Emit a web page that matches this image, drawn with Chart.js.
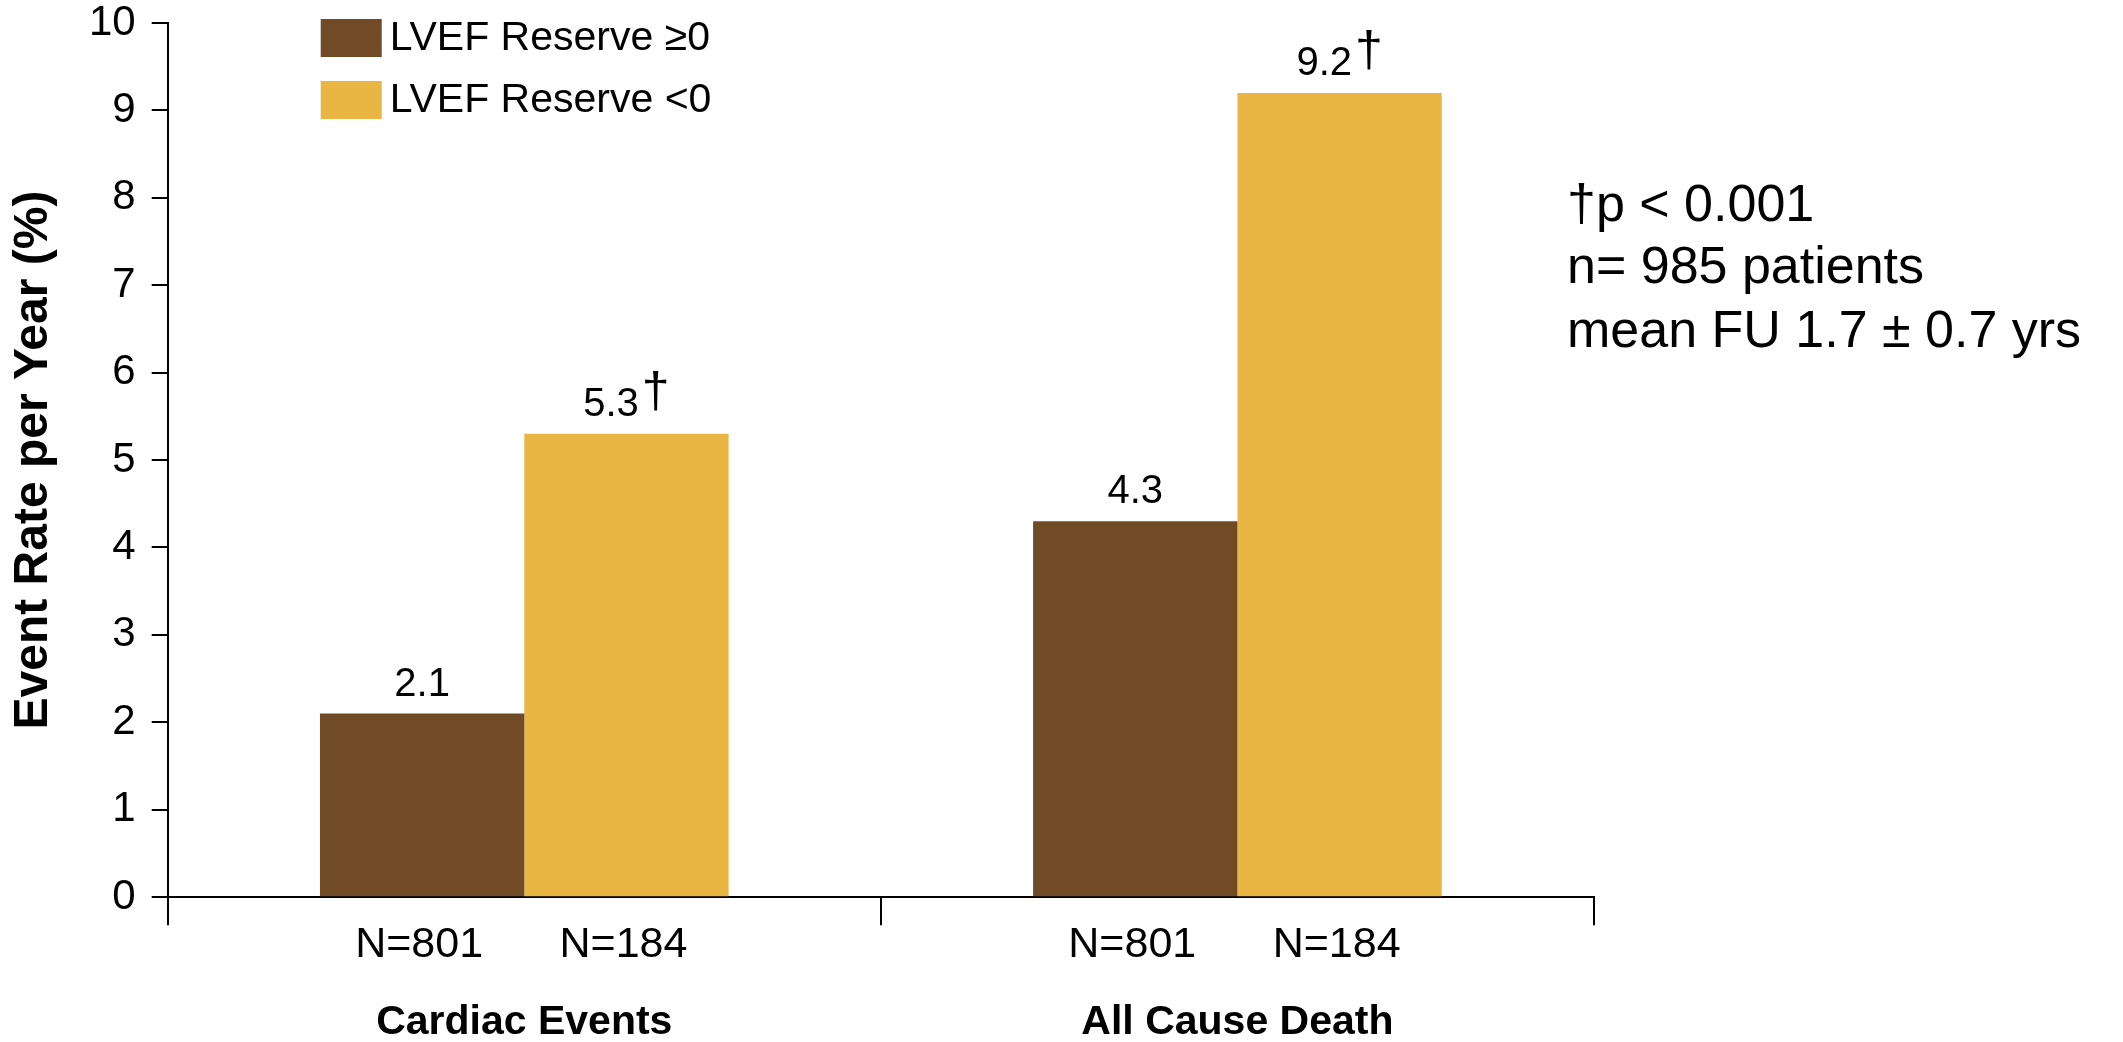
<!DOCTYPE html>
<html>
<head>
<meta charset="utf-8">
<script src="https://cdn.jsdelivr.net/npm/chart.js@4/dist/chart.umd.min.js"></script>
<style>
  html, body { margin: 0; padding: 0; background: #ffffff; }
  canvas { display: block; }
</style>
</head>
<body>
<canvas id="chart" width="2123" height="1042"></canvas>
<script>
// Event rate per year by LVEF reserve group
const categories = ['Cardiac Events', 'All Cause Death'];
const seriesLabels = ['LVEF Reserve \u22650', 'LVEF Reserve <0'];
const reserveNonNegative = [2.1, 4.3];
const reserveNegative = [5.3, 9.2];
const groupSizesNonNegative = ['N=801', 'N=801'];
const groupSizesNegative = ['N=184', 'N=184'];
const significantNonNegative = [false, false];
const significantNegative = [true, true];
const notes = ['\u2020p < 0.001', 'n= 985 patients', 'mean FU 1.7 \u00b1 0.7 yrs'];
const yMin = 0, yMax = 10, yStep = 1;

const BROWN = '#714a26';
const GOLD = '#e9b543';
const FONT = "'Liberation Sans', Arial, Helvetica, sans-serif";

const groupSizes = [groupSizesNonNegative, groupSizesNegative];
const significance = [significantNonNegative, significantNegative];

const annotationPlugin = {
  id: 'annotations',
  afterDatasetsDraw(chart) {
    const ctx = chart.ctx;
    const area = chart.chartArea;
    ctx.save();
    ctx.fillStyle = '#000';
    chart.data.datasets.forEach((ds, di) => {
      const meta = chart.getDatasetMeta(di);
      meta.data.forEach((bar, i) => {
        // value label above the bar, with a raised dagger when significant
        const valueText = ds.data[i].toFixed(1);
        ctx.font = '40px ' + FONT;
        const w = ctx.measureText(valueText).width;
        const hasDagger = significance[di][i];
        let dw = 0;
        if (hasDagger) {
          ctx.font = '50px ' + FONT;
          dw = ctx.measureText('\u2020').width + 3;
        }
        const startX = bar.x - (w + dw) / 2;
        const baseY = bar.y - 18;
        ctx.textAlign = 'left';
        ctx.textBaseline = 'alphabetic';
        ctx.font = '40px ' + FONT;
        ctx.fillText(valueText, startX, baseY);
        if (hasDagger) {
          ctx.font = '50px ' + FONT;
          ctx.fillText('\u2020', startX + w + 3, baseY - 9);
        }
        // group size under the bar
        ctx.font = '43px ' + FONT;
        ctx.textAlign = 'center';
        ctx.textBaseline = 'middle';
        ctx.fillText(groupSizes[di][i], bar.x - 3, area.bottom + 48);
      });
    });

    // legend
    const lx = area.left + 153;
    const rows = [19, 81];
    chart.data.datasets.forEach((ds, di) => {
      ctx.fillStyle = ds.backgroundColor;
      ctx.fillRect(lx, rows[di], 61, 38);
      ctx.fillStyle = '#000';
      ctx.font = '41px ' + FONT;
      ctx.textAlign = 'left';
      ctx.textBaseline = 'middle';
      ctx.fillText(ds.label, lx + 69, rows[di] + 20);
    });

    // study notes on the right
    ctx.font = '52px ' + FONT;
    ctx.textAlign = 'left';
    ctx.textBaseline = 'alphabetic';
    const nx = area.right - 27;
    const baselines = [221, 283, 347];
    notes.forEach((t, k) => ctx.fillText(t, nx, baselines[k]));
    ctx.restore();
  }
};

new Chart(document.getElementById('chart'), {
  type: 'bar',
  data: {
    labels: categories,
    datasets: [
      { label: seriesLabels[0], data: reserveNonNegative, backgroundColor: BROWN },
      { label: seriesLabels[1], data: reserveNegative, backgroundColor: GOLD }
    ]
  },
  options: {
    responsive: false,
    devicePixelRatio: 1,
    animation: false,
    layout: { padding: { left: 10, top: 23, right: 529, bottom: 0 } },
    datasets: { bar: { categoryPercentage: 0.573, barPercentage: 1.0 } },
    plugins: { legend: { display: false }, tooltip: { enabled: false } },
    scales: {
      x: {
        offset: true,
        grid: { offset: true, drawOnChartArea: false, drawTicks: true, tickLength: 28, color: '#000', lineWidth: 2 },
        border: { display: true, color: '#000', width: 2 },
        ticks: {
          color: '#000',
          padding: 0,
          maxRotation: 0,
          // two blank rows leave room for the group sizes drawn under each bar
          callback: (value, index) => ['', '', categories[index]],
          font: { family: FONT, size: 41, weight: 'bold', lineHeight: 0.95 }
        }
      },
      y: {
        min: yMin,
        max: yMax,
        grid: { drawOnChartArea: false, drawTicks: true, tickLength: 16, color: '#000', lineWidth: 2 },
        border: { display: true, color: '#000', width: 2 },
        ticks: { stepSize: yStep, color: '#000', padding: 16, font: { family: FONT, size: 42, lineHeight: 0.3 } },
        title: {
          display: true,
          text: 'Event Rate per Year (%)',
          color: '#000',
          padding: { top: 0, bottom: 15 },
          font: { family: FONT, size: 48, weight: 'bold', lineHeight: 1 }
        }
      }
    }
  },
  plugins: [annotationPlugin]
});
</script>
</body>
</html>
